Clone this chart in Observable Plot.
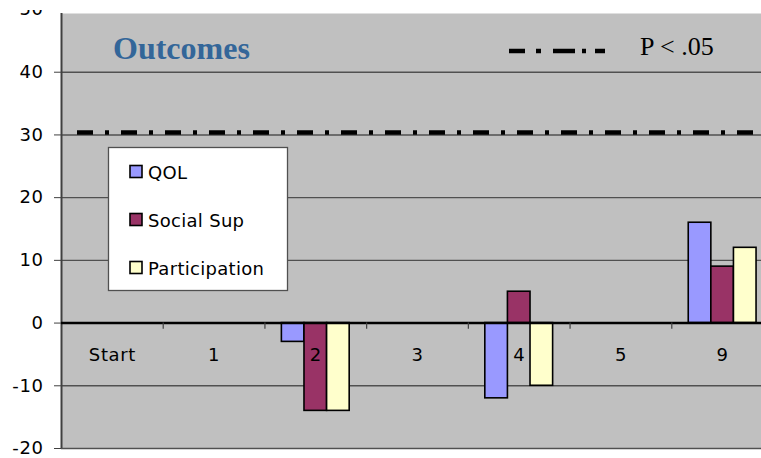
<!DOCTYPE html>
<html>
<head>
<meta charset="utf-8">
<script src="https://cdn.jsdelivr.net/npm/d3@7"></script>
<script src="https://cdn.jsdelivr.net/npm/@observablehq/plot@0.6"></script>
<style>
  html, body { margin: 0; padding: 0; background: #fff; overflow: hidden; }
  #wrap { position: relative; width: 761px; height: 458px; overflow: hidden; }
  #chart { position: absolute; left: 0; top: 0; width: 773px; }
  #chart svg { max-width: none !important; }
  #overlay { position: absolute; left: 0; top: 0; }
  svg text { font-family: "DejaVu Sans", Verdana, sans-serif; }
  #chart svg text { letter-spacing: 0.6px; }
</style>
</head>
<body>
<div id="wrap"><div id="chart"></div><svg id="overlay" width="761" height="458"></svg></div>
<script>
// ---- data ----
const categories = ["Start", "1", "2", "3", "4", "5", "9"];
const series = ["QOL", "Social Sup", "Participation"];
const qol           = [0, 0,  -3, 0, -12, 0, 16];
const socialSup     = [0, 0, -14, 0,   5, 0,  9];
const participation = [0, 0, -14, 0, -10, 0, 12];
const seriesColors = ["#9999ff", "#993366", "#ffffcc"];
const yTicks = [-20, -10, 0, 10, 20, 30, 40, 50];
const threshold = 30.4;
const thresholdLabel = "P < .05";
const title = "Outcomes";

// ---- table built from the arrays ----
const valuesBySeries = [qol, socialSup, participation];
const gapWidth = 1.5; // Excel gap width 150%
const barW = 1 / (series.length + gapWidth);
const rows = [];
categories.forEach((c, i) => {
  series.forEach((s, k) => {
    rows.push({category: c, index: i, series: s, k, value: valuesBySeries[k][i]});
  });
});
const barX1 = d => d.index + (gapWidth / 2 + d.k) * barW;
const barX2 = d => d.index + (gapWidth / 2 + d.k + 1) * barW;

const chart = Plot.plot({
  width: 773,
  height: 458,
  marginLeft: 61,
  marginRight: 0,
  marginTop: 9,
  marginBottom: 10,
  style: {fontFamily: "DejaVu Sans, Verdana, sans-serif", fontSize: "18px", color: "#000", background: "transparent", maxWidth: "none"},
  x: {type: "linear", domain: [0, categories.length], axis: null},
  y: {domain: [-20, 50], axis: null, label: null},
  color: {domain: series, range: seriesColors},
  marks: [
    Plot.frame({fill: "#c0c0c0", stroke: "none", insetTop: 4}),
    Plot.ruleY(yTicks.filter(v => v !== 0 && v !== 50), {stroke: "#505050", strokeWidth: 1.4}),
    Plot.ruleX([0], {stroke: "#404040", strokeWidth: 2, insetTop: 4}),
    Plot.axisY({ticks: yTicks, label: null, tickSize: 7, tickPadding: 11, tickFormat: d => String(d), fontSize: 18, stroke: "#404040"}),
    Plot.rectY(rows.filter(d => d.value !== 0), {
      x1: barX1, x2: barX2, y1: 0, y2: "value",
      fill: "series", stroke: "#000", strokeWidth: 1.6
    }),
    Plot.ruleY([0], {stroke: "#000", strokeWidth: 2.5}),
    Plot.ruleX(d3.range(1, categories.length), {y1: 0, y2: -1, stroke: "#404040", strokeWidth: 1.2}),
    Plot.text(categories, {x: (d, i) => i + 0.5, y: 0, dy: 32, text: d => d, fontSize: 18, fill: "#000"}),
    Plot.ruleY([threshold], {stroke: "#000", strokeWidth: 4.5, strokeDasharray: "16,12,4,12", insetLeft: 16, insetRight: 18})
  ]
});
document.getElementById("chart").appendChild(chart);

// ---- annotations: title, threshold legend, series legend ----
const ov = d3.select("#overlay");
ov.append("rect").attr("x", 0).attr("y", 0).attr("width", 761).attr("height", 10).attr("fill", "#fff");
ov.append("text").attr("x", 113).attr("y", 59).text(title)
  .style("font-family", "'Liberation Serif', 'Times New Roman', serif")
  .style("font-weight", "bold").style("font-size", "32px").attr("fill", "#336699");
ov.append("line").attr("x1", 509).attr("x2", 605).attr("y1", 51).attr("y2", 51)
  .attr("stroke", "#000").attr("stroke-width", 4.5).attr("stroke-dasharray", "16,11,5,12,22,7,4,9,10");
ov.append("text").attr("x", 640).attr("y", 54.5).text(thresholdLabel)
  .style("font-family", "'Liberation Serif', 'Times New Roman', serif")
  .style("font-size", "26px").attr("fill", "#000");

ov.append("rect").attr("x", 108.5).attr("y", 147.5).attr("width", 179).attr("height", 143)
  .attr("fill", "#fff").attr("stroke", "#505050").attr("stroke-width", 1.3);
series.forEach((s, k) => {
  const cy = 172 + k * 48;
  ov.append("rect").attr("x", 130).attr("y", cy - 6.5).attr("width", 12).attr("height", 12)
    .attr("fill", seriesColors[k]).attr("stroke", "#000").attr("stroke-width", 1.6);
  ov.append("text").attr("x", 148).attr("y", cy + 6.5).text(s)
    .style("font-size", "18px").style("letter-spacing", "0.3px").attr("fill", "#000");
});
</script>
</body>
</html>
